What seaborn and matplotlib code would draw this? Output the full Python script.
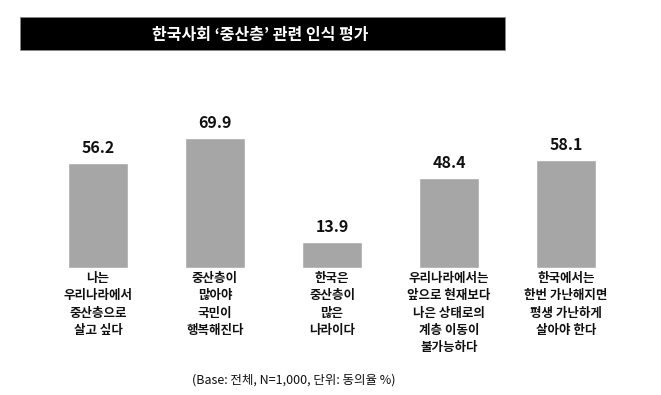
import pandas as pd
import seaborn as sns
import matplotlib.pyplot as plt
from matplotlib.patches import Rectangle

# data
categories = [
    "나는\n우리나라에서\n중산층으로\n살고 싶다",
    "중산층이\n많아야\n국민이\n행복해진다",
    "한국은\n중산층이\n많은\n나라이다",
    "우리나라에서는\n앞으로 현재보다\n나은 상태로의\n계층 이동이\n불가능하다",
    "한국에서는\n한번 가난해지면\n평생 가난하게\n살아야 한다",
]
values = [56.2, 69.9, 13.9, 48.4, 58.1]
title = "한국사회 ‘중산층’ 관련 인식 평가"
note = "(Base: 전체, N=1,000, 단위: 동의율 %)"

df = pd.DataFrame({"item": categories, "pct": values})

sns.set_theme(style="white")
plt.rcParams['font.family'] = ['Noto Sans CJK KR', 'DejaVu Sans']

fig = plt.figure(figsize=(6.61, 3.95), dpi=100)
ax = fig.add_axes([39.5 / 661, (395 - 268) / 395, 585 / 661, 149 / 395])

sns.barplot(data=df, x="item", y="pct", color="#a6a6a6", width=0.52,
            saturation=1, ax=ax)
ax.set_ylim(0, 80)
ax.set_xlim(-0.5, 4.5)
ax.bar_label(ax.containers[0], fmt="%.1f", padding=5,
             fontsize=11.5, fontweight="bold", color="#111111")

ax.set_xlabel("")
ax.set_ylabel("")
ax.set_yticks([])
ax.tick_params(axis="x", length=0, pad=3)
for lab in ax.get_xticklabels():
    lab.set_fontsize(9)
    lab.set_fontweight("bold")
    lab.set_linespacing(1.42)
    lab.set_verticalalignment("top")
    lab.set_color("#111111")
sns.despine(ax=ax, left=True, bottom=True)

# black title bar
fig.patches.append(Rectangle((20 / 661, (395 - 50) / 395), 485 / 661, 33 / 395,
                             transform=fig.transFigure, facecolor="black",
                             edgecolor="#888888", linewidth=0.6))
fig.text(260 / 661, (395 - 35) / 395, title, color="white", fontsize=11.5,
         fontweight="bold", ha="center", va="center")

fig.text(294 / 661, (395 - 380) / 395, note, fontsize=9, ha="center",
         va="center", color="#111111", fontweight="medium")

fig.savefig("out.png", dpi=100)
